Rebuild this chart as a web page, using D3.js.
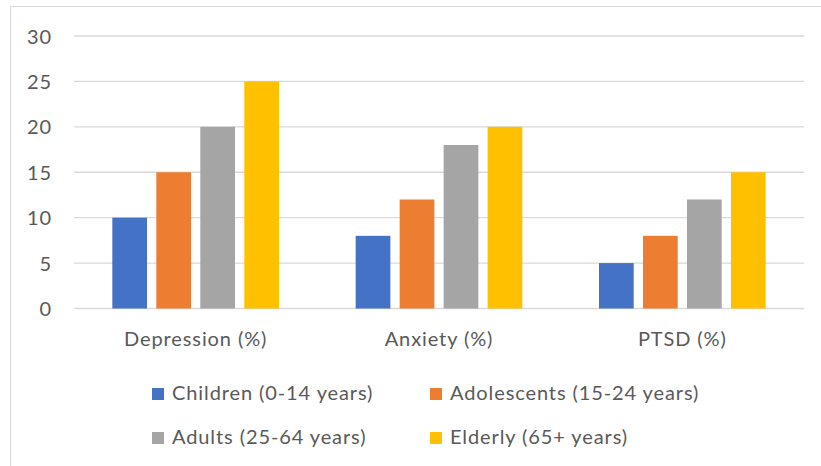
<!DOCTYPE html>
<html>
<head>
<meta charset="utf-8">
<script src="https://cdn.jsdelivr.net/npm/d3@7"></script>
<style>
  html, body { margin: 0; padding: 0; background: #fff; }
  svg { display: block; }
  text { font-family: Lato, "Open Sans", sans-serif; fill: #595959; letter-spacing: 0.9px; }
</style>
</head>
<body>
<svg id="chart" width="821" height="466"></svg>
<script>
// Prevalence by condition and age group
const categories = ["Depression (%)", "Anxiety (%)", "PTSD (%)"];
const seriesNames = ["Children (0-14 years)", "Adolescents (15-24 years)", "Adults (25-64 years)", "Elderly (65+ years)"];
const children    = [10, 8, 5];
const adolescents = [15, 12, 8];
const adults      = [20, 18, 12];
const elderly     = [25, 20, 15];
const seriesColors = ["#4472C4", "#ED7D31", "#A5A5A5", "#FFC000"];
const yTicks = [0, 5, 10, 15, 20, 25, 30];

const seriesValues = [children, adolescents, adults, elderly];
const series = seriesNames.map((name, i) => ({ name, color: seriesColors[i], values: seriesValues[i] }));

const svg = d3.select("#chart");
const W = 821, H = 466;
const plot = { left: 74, right: 804, top: 36, bottom: 308.5 };
const fontSize = 20;

// chart frame
svg.append("rect")
  .attr("x", 10.5).attr("y", 6.5)
  .attr("width", W + 10).attr("height", H + 10)
  .attr("fill", "#fff").attr("stroke", "#D9D9D9").attr("stroke-width", 1);

const x0 = d3.scaleBand().domain(categories).range([plot.left, plot.right]).padding(0);
const groupMargin = x0.bandwidth() * 0.1575;
const x1 = d3.scaleBand().domain(seriesNames)
  .range([groupMargin, x0.bandwidth() - groupMargin])
  .paddingInner(0.211).paddingOuter(0);
const y = d3.scaleLinear().domain([0, 30]).range([plot.bottom, plot.top]);

// gridlines
svg.append("g")
  .selectAll("line").data(yTicks).join("line")
  .attr("x1", plot.left).attr("x2", plot.right)
  .attr("y1", d => y(d)).attr("y2", d => y(d))
  .attr("stroke", "#D9D9D9").attr("stroke-width", 1.3);

// y axis labels
const yAxis = d3.axisLeft(y).tickValues(yTicks).tickSize(0).tickPadding(0);
const gy = svg.append("g").attr("transform", "translate(52,0)").call(yAxis);
gy.select(".domain").remove();
gy.selectAll("text")
  .attr("font-family", "Lato, sans-serif")
  .attr("font-size", fontSize).attr("fill", "#595959")
  .attr("dy", "0.35em");

// bars
const groups = svg.append("g").selectAll("g").data(categories).join("g")
  .attr("transform", d => `translate(${x0(d)},0)`);
groups.selectAll("rect")
  .data((c, ci) => series.map(s => ({ name: s.name, color: s.color, value: s.values[ci] })))
  .join("rect")
  .attr("x", d => x1(d.name))
  .attr("width", x1.bandwidth())
  .attr("y", d => y(d.value))
  .attr("height", d => y(0) - y(d.value))
  .attr("fill", d => d.color);

// category axis labels
const xAxis = d3.axisBottom(x0).tickSize(0).tickPadding(0);
const gx = svg.append("g").attr("transform", `translate(0,${plot.bottom})`).call(xAxis);
gx.select(".domain").remove();
gx.selectAll("text")
  .attr("font-family", "Lato, sans-serif")
  .attr("font-size", fontSize).attr("fill", "#595959")
  .attr("y", 37).attr("dy", 0);

// legend
const legendCols = [152, 430];
const legendRows = [400, 444];
const legend = svg.append("g").selectAll("g").data(series).join("g")
  .attr("transform", (d, i) => `translate(${legendCols[i % 2]},${legendRows[Math.floor(i / 2)]})`);
legend.append("rect")
  .attr("x", 0).attr("y", -12).attr("width", 12).attr("height", 12)
  .attr("fill", d => d.color);
legend.append("text")
  .attr("x", 20).attr("y", 0)
  .attr("font-size", fontSize)
  .text(d => d.name);
</script>
</body>
</html>
